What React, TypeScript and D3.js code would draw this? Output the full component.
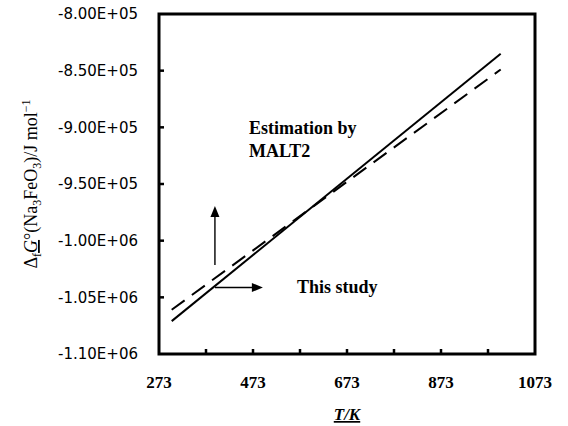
import React from 'react';
import * as d3 from 'd3';

// temperatures (K) and Gibbs energies (J/mol)
const temps = [300, 1000];
const thisStudy = [-1.071e6, -8.35e5];
const malt2 = [-1.061e6, -8.49e5];

const xTickValues = [273, 373, 473, 573, 673, 773, 873, 973, 1073];
const xTickLabels = ['273', '', '473', '', '673', '', '873', '', '1073'];
const yTickValues = [-8.0e5, -8.5e5, -9.0e5, -9.5e5, -1.0e6, -1.05e6, -1.1e6];
const yTickLabels = ['-8.00E+05', '-8.50E+05', '-9.00E+05', '-9.50E+05', '-1.00E+06', '-1.05E+06', '-1.10E+06'];

const W = 568;
const H = 426;
const left = 159, right = 535, top = 14, bottom = 354;

const App = () => {
  const x = d3.scaleLinear().domain([273, 1073]).range([left, right]);
  const y = d3.scaleLinear().domain([-1.1e6, -8.0e5]).range([bottom, top]);

  const line = d3.line<number>()
    .x((_, i) => x(temps[i]))
    .y(d => y(d));

  const serif = 'Liberation Serif, Times New Roman, serif';

  // annotation arrows
  const ax = x(392);
  const upTip = 206, upBase = 265;
  const ry = 287.5, rTip = x(494);

  return (
    <svg width={W} height={H} style={{ position: 'absolute', left: 0, top: 0, background: '#fff' }}>
      {/* series */}
      <path d={line(malt2) || ''} fill="none" stroke="#000" strokeWidth={2} strokeDasharray="16,9" />
      <path d={line(thisStudy) || ''} fill="none" stroke="#000" strokeWidth={2} />

      {/* inward ticks */}
      {xTickValues.slice(1, -1).map(v => (
        <line key={'xt' + v} x1={x(v)} x2={x(v)} y1={bottom} y2={bottom - 5} stroke="#000" strokeWidth={2.5} />
      ))}
      {yTickValues.slice(1, -1).map(v => (
        <line key={'yt' + v} x1={left} x2={left + 5} y1={y(v)} y2={y(v)} stroke="#000" strokeWidth={2.5} />
      ))}

      {/* frame */}
      <rect x={left} y={top} width={right - left} height={bottom - top} fill="none" stroke="#000" strokeWidth={3} />

      {/* tick labels */}
      {yTickValues.map((v, i) => (
        <text key={'yl' + v} x={138} y={y(v)} dy="0.36em" textAnchor="end"
          fontFamily="DejaVu Sans, sans-serif" fontSize={15} fill="#000">{yTickLabels[i]}</text>
      ))}
      {xTickValues.map((v, i) => xTickLabels[i] ? (
        <text key={'xl' + v} x={x(v)} y={388} textAnchor="middle"
          fontFamily={serif} fontWeight="bold" fontSize={17} fill="#000">{xTickLabels[i]}</text>
      ) : null)}

      {/* axis titles */}
      <text x={(left + right) / 2} y={420} textAnchor="middle" fontFamily={serif} fontWeight="bold"
        fontStyle="italic" fontSize={17} textDecoration="underline" fill="#000">T/K</text>
      <text transform={`translate(37,${(top + bottom) / 2}) rotate(-90)`} textAnchor="middle"
        fontFamily={serif} fontSize={18} fill="#000">
        <tspan>Δ</tspan>
        <tspan dy={4} fontSize={12}>f</tspan>
        <tspan dy={-4} fontStyle="italic" textDecoration="underline">G</tspan>
        <tspan>°(Na</tspan>
        <tspan dy={4} fontSize={12}>3</tspan>
        <tspan dy={-4}>FeO</tspan>
        <tspan dy={4} fontSize={12}>3</tspan>
        <tspan dy={-4}>)/J mol</tspan>
        <tspan dy={-7} fontSize={12}>−1</tspan>
      </text>

      {/* annotations */}
      <line x1={ax} y1={upBase} x2={ax} y2={upTip + 10} stroke="#000" strokeWidth={1.4} />
      <path d={`M${ax},${upTip} L${ax - 4.5},${upTip + 11} L${ax + 4.5},${upTip + 11} Z`} fill="#000" />
      <line x1={ax} y1={ry} x2={rTip - 10} y2={ry} stroke="#000" strokeWidth={1.4} />
      <path d={`M${rTip},${ry} L${rTip - 11},${ry - 4.5} L${rTip - 11},${ry + 4.5} Z`} fill="#000" />
      <text x={297} y={293} fontFamily={serif} fontWeight="bold" fontSize={18} fill="#000">This study</text>
      <text x={249} y={134} fontFamily={serif} fontWeight="bold" fontSize={18} fill="#000">Estimation by</text>
      <text x={249} y={157} fontFamily={serif} fontWeight="bold" fontSize={18} fill="#000">MALT2</text>
    </svg>
  );
};

export default App;
